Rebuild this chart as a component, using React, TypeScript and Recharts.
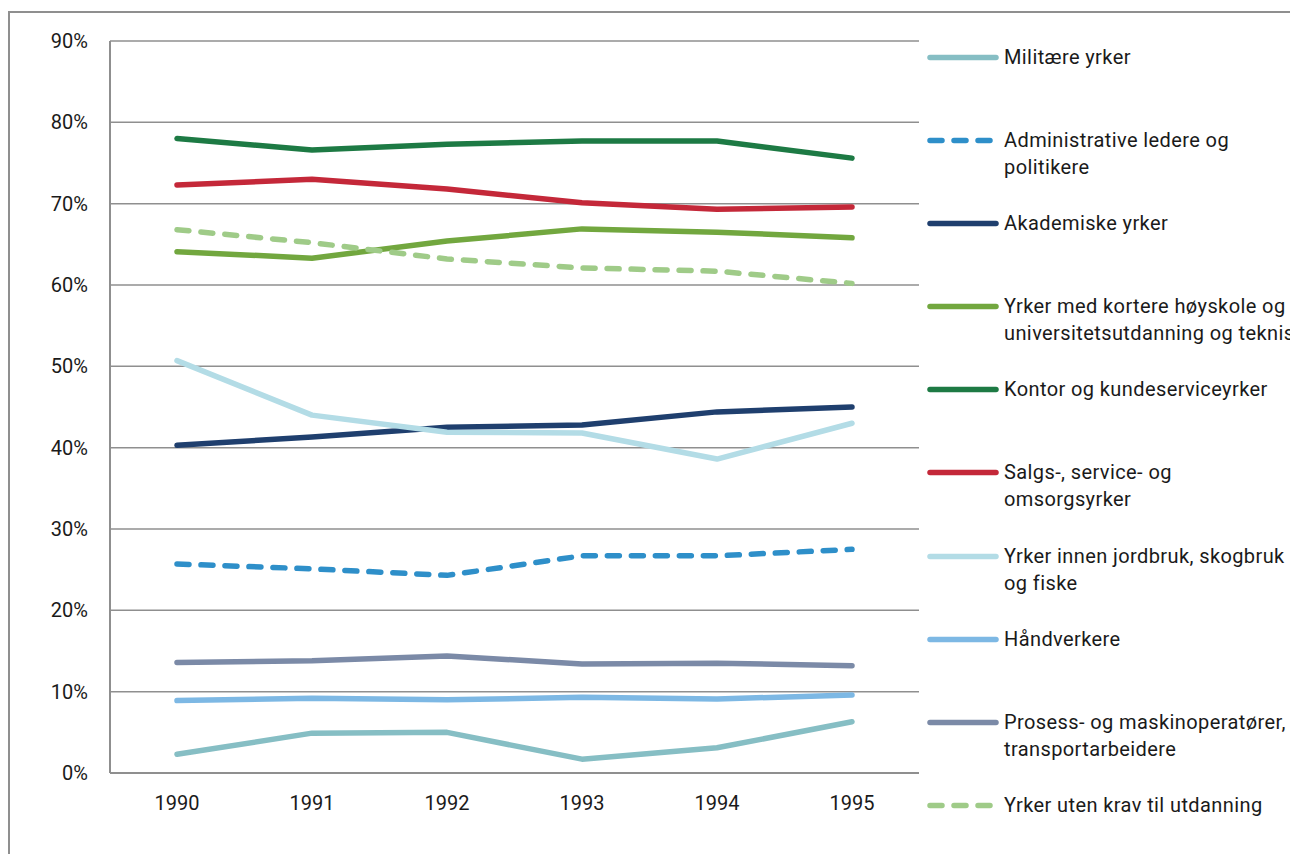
import { LineChart, Line, XAxis, YAxis, CartesianGrid } from 'recharts';

const years = ['1990', '1991', '1992', '1993', '1994', '1995'];
const yTicks = [0, 10, 20, 30, 40, 50, 60, 70, 80, 90];

const militaere = [2.3, 4.9, 5.0, 1.7, 3.1, 6.3];
const administrative = [25.7, 25.1, 24.3, 26.7, 26.7, 27.5];
const akademiske = [40.3, 41.3, 42.5, 42.8, 44.4, 45.0];
const kortere = [64.1, 63.3, 65.4, 66.9, 66.5, 65.8];
const kontor = [78.0, 76.6, 77.3, 77.7, 77.7, 75.6];
const salgs = [72.3, 73.0, 71.8, 70.1, 69.3, 69.6];
const jordbruk = [50.7, 44.0, 41.9, 41.8, 38.6, 43.0];
const handverkere = [8.9, 9.2, 9.0, 9.3, 9.1, 9.6];
const prosess = [13.6, 13.8, 14.4, 13.4, 13.5, 13.2];
const utenKrav = [66.8, 65.2, 63.2, 62.1, 61.7, 60.2];

const series = [
  { key: 'militaere', values: militaere, lines: ['Militære yrker'], color: '#86bec4', dashed: false },
  { key: 'administrative', values: administrative, lines: ['Administrative ledere og', 'politikere'], color: '#2e8fc9', dashed: true },
  { key: 'akademiske', values: akademiske, lines: ['Akademiske yrker'], color: '#1f3f6e', dashed: false },
  { key: 'kortere', values: kortere, lines: ['Yrker med kortere høyskole og', 'universitetsutdanning og tekniske yrker'], color: '#72a73f', dashed: false },
  { key: 'kontor', values: kontor, lines: ['Kontor og kundeserviceyrker'], color: '#1d7a44', dashed: false },
  { key: 'salgs', values: salgs, lines: ['Salgs-, service- og', 'omsorgsyrker'], color: '#c42839', dashed: false },
  { key: 'jordbruk', values: jordbruk, lines: ['Yrker innen jordbruk, skogbruk', 'og fiske'], color: '#b3dce6', dashed: false },
  { key: 'handverkere', values: handverkere, lines: ['Håndverkere'], color: '#7db8e4', dashed: false },
  { key: 'prosess', values: prosess, lines: ['Prosess- og maskinoperatører,', 'transportarbeidere'], color: '#7b8aa7', dashed: false },
  { key: 'utenKrav', values: utenKrav, lines: ['Yrker uten krav til utdanning'], color: '#9fcb88', dashed: true },
];

const data = years.map((year, i) => {
  const row: Record<string, string | number> = { year };
  series.forEach((s) => {
    row[s.key] = s.values[i];
  });
  return row;
});

const FONT = 'Roboto, "DejaVu Sans", sans-serif';
const GRID = '#8f8f8f';

function LegendBox() {
  return (
    <div
      style={{
        position: 'absolute',
        left: 917,
        top: 35.5,
        fontFamily: FONT,
        fontSize: 20,
        letterSpacing: 0.4,
        color: '#1a1a1a',
      }}
    >
      {series.map((s) => (
        <div key={s.key} style={{ height: 83.2, display: 'flex', alignItems: 'flex-start' }}>
          <svg width={76} height={27} style={{ flex: 'none' }}>
            <line
              x1={5}
              x2={71}
              y1={13.5}
              y2={13.5}
              stroke={s.color}
              strokeWidth={5.5}
              strokeLinecap="round"
              strokeDasharray={s.dashed ? '12 12' : undefined}
            />
          </svg>
          <div style={{ marginLeft: 3, lineHeight: '27px', whiteSpace: 'nowrap' }}>
            {s.lines.map((l) => (
              <div key={l}>{l}</div>
            ))}
          </div>
        </div>
      ))}
    </div>
  );
}

export default function App() {
  return (
    <div style={{ position: 'fixed', left: 0, top: 0, width: 1290, height: 854, overflow: 'hidden', background: '#fff' }}>
      <div style={{ position: 'absolute', left: 8, top: 8, width: 1282, height: 846 }}>
        <div
          style={{
            position: 'absolute',
            left: 0,
            top: 3,
            right: 0,
            bottom: 0,
            borderTop: `2px solid ${GRID}`,
            borderLeft: `2px solid ${GRID}`,
          }}
        />
        <LineChart width={1282} height={846} data={data} margin={{ top: 33, right: 371, bottom: 41, left: 42 }}>
          <CartesianGrid vertical={false} stroke={GRID} strokeWidth={1.5} />
          <XAxis
            dataKey="year"
            padding={{ left: 67, right: 67 }}
            axisLine={{ stroke: GRID, strokeWidth: 2 }}
            tickLine={false}
            tickSize={0}
            tickMargin={23}
            height={40}
            tick={{ fill: '#1a1a1a', fontSize: 20, fontFamily: FONT }}
          />
          <YAxis
            domain={[0, 90]}
            ticks={yTicks}
            width={60}
            interval={0}
            axisLine={{ stroke: GRID, strokeWidth: 2 }}
            tickLine={false}
            tickSize={0}
            tickMargin={22}
            tickFormatter={(v: number) => `${v}%`}
            tick={{ fill: '#1a1a1a', fontSize: 20, fontFamily: FONT }}
          />
          {series.map((s) => (
            <Line
              key={s.key}
              dataKey={s.key}
              type="linear"
              stroke={s.color}
              strokeWidth={5.5}
              strokeLinecap="round"
              strokeLinejoin="round"
              strokeDasharray={s.dashed ? '12 12' : undefined}
              dot={false}
              activeDot={false}
              isAnimationActive={false}
            />
          ))}
        </LineChart>
        <LegendBox />
      </div>
    </div>
  );
}
